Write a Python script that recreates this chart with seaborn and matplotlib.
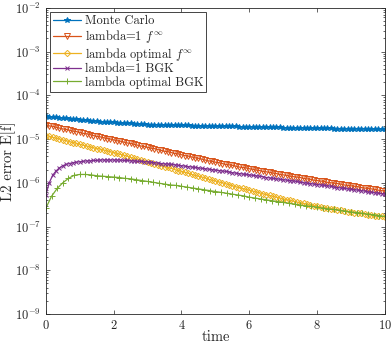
import numpy as np
import pandas as pd
import seaborn as sns
import matplotlib
matplotlib.use("Agg")
import matplotlib.pyplot as plt
from matplotlib.ticker import LogLocator, NullFormatter

# time grids (dt = 0.1, green series dt = 1/6)
t = np.linspace(0, 10, 101)
t_green = np.linspace(0, 10, 61)

# log10 of the L2 error
mc_log = [-4.48, -4.49, -4.50, -4.50, -4.51, -4.52, -4.53, -4.54, -4.54, -4.55, -4.56,
          -4.57, -4.57, -4.58, -4.59, -4.59, -4.60, -4.61, -4.61, -4.62, -4.62,
          -4.63, -4.63, -4.64, -4.64, -4.64, -4.65, -4.65, -4.66, -4.66, -4.67,
          -4.67, -4.67, -4.67, -4.68, -4.68, -4.68, -4.68, -4.69, -4.69, -4.69,
          -4.69, -4.69, -4.70, -4.70, -4.70, -4.70, -4.70, -4.70, -4.71, -4.71,
          -4.71, -4.71, -4.71, -4.71, -4.71, -4.71, -4.72, -4.72, -4.72, -4.72,
          -4.72, -4.72, -4.72, -4.73, -4.73, -4.73, -4.73, -4.73, -4.73, -4.74,
          -4.74, -4.74, -4.74, -4.74, -4.74, -4.74, -4.75, -4.75, -4.75, -4.75,
          -4.75, -4.75, -4.75, -4.75, -4.76, -4.76, -4.76, -4.76, -4.76, -4.76,
          -4.76, -4.76, -4.76, -4.76, -4.77, -4.77, -4.77, -4.77, -4.77, -4.77]

finf1_log = [-4.68, -4.70, -4.71, -4.73, -4.75, -4.77, -4.78, -4.80, -4.82, -4.83, -4.85,
             -4.87, -4.88, -4.90, -4.92, -4.94, -4.95, -4.97, -4.99, -5.00, -5.02,
             -5.04, -5.05, -5.07, -5.09, -5.10, -5.12, -5.14, -5.16, -5.17, -5.19,
             -5.21, -5.22, -5.24, -5.26, -5.28, -5.29, -5.31, -5.33, -5.34, -5.36,
             -5.38, -5.39, -5.41, -5.43, -5.44, -5.46, -5.48, -5.50, -5.51, -5.53,
             -5.54, -5.56, -5.58, -5.59, -5.60, -5.62, -5.64, -5.65, -5.66, -5.68,
             -5.69, -5.71, -5.72, -5.74, -5.75, -5.76, -5.78, -5.79, -5.81, -5.82,
             -5.83, -5.85, -5.86, -5.87, -5.88, -5.90, -5.91, -5.92, -5.94, -5.95,
             -5.96, -5.97, -5.99, -6.00, -6.01, -6.02, -6.03, -6.05, -6.06, -6.07,
             -6.08, -6.09, -6.11, -6.12, -6.13, -6.14, -6.15, -6.17, -6.18, -6.19]

finfopt_log = [-4.92, -4.94, -4.96, -4.98, -5.00, -5.02, -5.04, -5.06, -5.08, -5.10, -5.12,
               -5.14, -5.16, -5.18, -5.20, -5.22, -5.23, -5.25, -5.27, -5.29, -5.31,
               -5.33, -5.35, -5.37, -5.39, -5.42, -5.44, -5.46, -5.48, -5.50, -5.52,
               -5.54, -5.56, -5.59, -5.61, -5.63, -5.65, -5.67, -5.70, -5.72, -5.74,
               -5.76, -5.78, -5.81, -5.83, -5.85, -5.87, -5.89, -5.92, -5.94, -5.96,
               -5.98, -6.00, -6.02, -6.04, -6.07, -6.09, -6.11, -6.13, -6.15, -6.17,
               -6.19, -6.21, -6.23, -6.25, -6.27, -6.29, -6.31, -6.33, -6.35, -6.37,
               -6.39, -6.40, -6.42, -6.44, -6.46, -6.47, -6.49, -6.51, -6.52, -6.54,
               -6.55, -6.57, -6.58, -6.59, -6.61, -6.62, -6.63, -6.64, -6.66, -6.67,
               -6.68, -6.69, -6.70, -6.71, -6.73, -6.74, -6.75, -6.76, -6.77, -6.78]

bgk1_log = [-6.28, -6.00, -5.83, -5.73, -5.66, -5.61, -5.58, -5.56, -5.54, -5.53, -5.52,
            -5.51, -5.50, -5.50, -5.49, -5.49, -5.48, -5.48, -5.48, -5.48, -5.48,
            -5.48, -5.48, -5.49, -5.49, -5.50, -5.50, -5.51, -5.51, -5.52, -5.52,
            -5.53, -5.54, -5.55, -5.56, -5.57, -5.57, -5.58, -5.59, -5.60, -5.61,
            -5.62, -5.63, -5.64, -5.65, -5.66, -5.67, -5.68, -5.69, -5.70, -5.71,
            -5.72, -5.73, -5.74, -5.75, -5.77, -5.78, -5.79, -5.80, -5.81, -5.82,
            -5.83, -5.84, -5.85, -5.86, -5.88, -5.89, -5.90, -5.91, -5.92, -5.93,
            -5.94, -5.95, -5.96, -5.97, -5.99, -6.00, -6.01, -6.02, -6.03, -6.04,
            -6.05, -6.06, -6.07, -6.08, -6.10, -6.11, -6.12, -6.13, -6.14, -6.15,
            -6.16, -6.17, -6.18, -6.19, -6.21, -6.22, -6.23, -6.24, -6.25, -6.26]

bgkopt_log = [-6.58, -6.31, -6.13, -6.00, -5.90, -5.83, -5.81, -5.81, -5.82, -5.84, -5.85,
              -5.86, -5.87, -5.88, -5.90, -5.91, -5.93, -5.95, -5.97, -5.99, -6.01,
              -6.03, -6.05, -6.06, -6.08, -6.10, -6.12, -6.14, -6.16, -6.18, -6.20,
              -6.22, -6.24, -6.26, -6.28, -6.30, -6.33, -6.35, -6.37, -6.39, -6.41,
              -6.43, -6.45, -6.47, -6.49, -6.51, -6.53, -6.54, -6.56, -6.58, -6.60,
              -6.61, -6.63, -6.65, -6.67, -6.68, -6.70, -6.72, -6.73, -6.75, -6.77]

labels = ["Monte Carlo", r"lambda=1 $f^{\infty}$", r"lambda optimal $f^{\infty}$",
          "lambda=1 BGK", "lambda optimal BGK"]

sns.set_style("ticks")
plt.rcParams["font.family"] = "serif"
plt.rcParams["font.serif"] = ["cmr10", "DejaVu Serif"]
plt.rcParams["mathtext.fontset"] = "cm"
plt.rcParams["axes.formatter.use_mathtext"] = True
plt.rcParams["axes.unicode_minus"] = False

fig = plt.figure(figsize=(3.92, 3.46), dpi=100)
ax = fig.add_axes([0.117, 0.0925, 0.865, 0.885])

series = [
    (t, mc_log, "#0072BD", "*", {}),
    (t, finf1_log, "#D95319", "v", {"markerfacecolor": "none"}),
    (t, finfopt_log, "#EDB120", "D", {"markerfacecolor": "none", "markersize": 3.2}),
    (t, bgk1_log, "#7E2F8E", "x", {"markersize": 3.4}),
    (t_green, bgkopt_log, "#77AC30", "+", {}),
]
for (x, ylog, col, mk, extra), lab in zip(series, labels):
    kw = dict(markersize=4.0, markeredgewidth=0.7)
    kw.update(extra)
    sns.lineplot(x=x, y=10.0 ** np.array(ylog), color=col, marker=mk,
                 markeredgecolor=col, linewidth=0.9, label=lab, ax=ax, **kw)

ax.set_yscale("log")
ax.set_xlim(0, 10)
ax.set_ylim(1e-9, 1e-2)
ax.set_xticks([0, 2, 4, 6, 8, 10])
ax.yaxis.set_major_locator(LogLocator(base=10, numticks=20))
ax.yaxis.set_minor_locator(LogLocator(base=10, subs=np.arange(2, 10), numticks=20))
ax.yaxis.set_minor_formatter(NullFormatter())

ax.set_xlabel("time", fontsize=10.5)
ax.set_ylabel("L2 error E[f]", fontsize=10.5)
ax.xaxis.set_label_coords(0.5, -0.054)
ax.yaxis.set_label_coords(-0.088, 0.5)

for s in ax.spines.values():
    s.set_visible(True)
    s.set_color("#262626")
    s.set_linewidth(0.6)
ax.tick_params(which="both", direction="in", top=True, right=True,
               colors="#262626", labelsize=9, width=0.5)
ax.tick_params(which="major", length=3, pad=3.5)
ax.tick_params(which="minor", length=1.6)

leg = ax.legend(loc="upper left", fontsize=9, frameon=True, fancybox=False,
                framealpha=1, edgecolor="#262626", borderpad=0.25,
                labelspacing=0.05, handlelength=2.2, handletextpad=0.3,
                borderaxespad=0.35)
leg.get_frame().set_linewidth(0.6)

fig.savefig("out.png", dpi=100)
